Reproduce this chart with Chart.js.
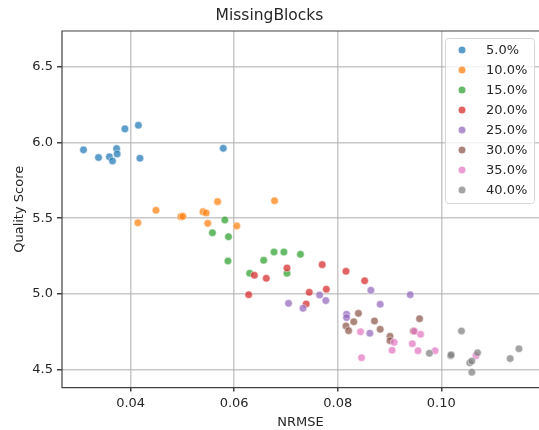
<!DOCTYPE html>
<html>
<head>
<meta charset="utf-8">
<script src="https://cdn.jsdelivr.net/npm/chart.js@4"></script>
<style>
  html, body { margin: 0; padding: 0; background: #fff; }
  #wrap { width: 539px; height: 430px; position: relative; }
</style>
</head>
<body>
<div id="wrap"><canvas id="chart"></canvas></div>
<script>
// values
const groups = ["5.0%", "10.0%", "15.0%", "20.0%", "25.0%", "30.0%", "35.0%", "40.0%"];

const nrmse05 = [0.0309, 0.0338, 0.0359, 0.0365, 0.0373, 0.0374, 0.0389, 0.0415, 0.0418, 0.0579];
const score05 = [5.95, 5.90, 5.905, 5.877, 5.958, 5.923, 6.088, 6.112, 5.895, 5.96];
const nrmse10 = [0.0414, 0.0449, 0.0497, 0.0501, 0.0540, 0.0546, 0.0549, 0.0568, 0.0605, 0.0678];
const score10 = [5.47, 5.552, 5.51, 5.512, 5.543, 5.534, 5.466, 5.609, 5.449, 5.615];
const nrmse15 = [0.0558, 0.0582, 0.0589, 0.0588, 0.0630, 0.0657, 0.0677, 0.0696, 0.0702, 0.0728];
const score15 = [5.404, 5.488, 5.378, 5.218, 5.137, 5.223, 5.277, 5.277, 5.137, 5.262];
const nrmse20 = [0.0628, 0.0639, 0.0662, 0.0702, 0.0739, 0.0745, 0.0770, 0.0778, 0.0816, 0.0852];
const score20 = [4.996, 5.124, 5.104, 5.172, 4.935, 5.012, 5.194, 5.032, 5.150, 5.088];
const nrmse25 = [0.0705, 0.0733, 0.0765, 0.0777, 0.0817, 0.0817, 0.0862, 0.0864, 0.0882, 0.0940];
const score25 = [4.939, 4.906, 4.994, 4.957, 4.867, 4.845, 4.742, 5.025, 4.933, 4.996];
const nrmse30 = [0.0816, 0.0821, 0.0831, 0.0840, 0.0871, 0.0882, 0.0901, 0.0901, 0.0946, 0.0958];
const score30 = [4.790, 4.759, 4.818, 4.873, 4.823, 4.768, 4.722, 4.693, 4.757, 4.838];
const nrmse35 = [0.0844, 0.0846, 0.0905, 0.0909, 0.0944, 0.0948, 0.0955, 0.0960, 0.0988, 0.1067];
const score35 = [4.752, 4.581, 4.630, 4.682, 4.673, 4.755, 4.627, 4.735, 4.627, 4.594];
const nrmse40 = [0.0977, 0.1018, 0.1019, 0.1039, 0.1055, 0.1059, 0.1059, 0.1070, 0.1133, 0.1150];
const score40 = [4.610, 4.594, 4.600, 4.757, 4.548, 4.559, 4.485, 4.614, 4.575, 4.640];

const xTicks = [0.04, 0.06, 0.08, 0.10];
const yTicks = [4.5, 5.0, 5.5, 6.0, 6.5];

const colors = ["#1f77b4", "#ff7f0e", "#2ca02c", "#d62728", "#9467bd", "#8c564b", "#e377c2", "#7f7f7f"];

const xs = [nrmse05, nrmse10, nrmse15, nrmse20, nrmse25, nrmse30, nrmse35, nrmse40];
const ys = [score05, score10, score15, score20, score25, score30, score35, score40];

function alpha(hex, a) {
  const n = parseInt(hex.slice(1), 16);
  return "rgba(" + (n >> 16) + "," + ((n >> 8) & 255) + "," + (n & 255) + "," + a + ")";
}

const datasets = groups.map((label, i) => ({
  label: label,
  data: xs[i].map((x, j) => ({ x: x, y: ys[i][j] })),
  backgroundColor: alpha(colors[i], 0.72),
  borderColor: "rgba(255,255,255,0.8)",
  borderWidth: 0.6,
  pointRadius: 3.8,
  pointHoverRadius: 3.8,
  order: groups.length - i,
}));

const FONT = "'DejaVu Sans', sans-serif";
const TEXT = "#262626";

// axes frame plus a matplotlib style legend inside the axes
const framePlugin = {
  id: "frame",
  afterDraw(chart) {
    const ctx = chart.ctx;
    const a = chart.chartArea;
    ctx.save();
    ctx.strokeStyle = "#404040";
    ctx.lineWidth = 1.2;
    ctx.beginPath();
    ctx.moveTo(chart.width + 2, a.top);
    ctx.lineTo(a.left, a.top);
    ctx.lineTo(a.left, a.bottom);
    ctx.lineTo(chart.width + 2, a.bottom);
    ctx.stroke();

    // legend box
    const bx = 445, by = 38, bw = 89, bh = 165;
    ctx.fillStyle = "rgba(255,255,255,0.8)";
    ctx.strokeStyle = "#d6d6d6";
    ctx.lineWidth = 1;
    ctx.beginPath();
    ctx.roundRect(bx + 0.5, by + 0.5, bw, bh, 3);
    ctx.fill();
    ctx.stroke();

    ctx.font = "13px " + FONT;
    ctx.textBaseline = "middle";
    ctx.textAlign = "left";
    chart.data.datasets.forEach((ds, i) => {
      const cy = by + 12 + i * 20;
      ctx.fillStyle = ds.backgroundColor;
      ctx.beginPath();
      ctx.arc(462, cy, 3.5, 0, Math.PI * 2);
      ctx.fill();
      ctx.fillStyle = TEXT;
      ctx.fillText(ds.label, 486, cy + 1);
    });
    ctx.restore();
  },
};

new Chart(document.getElementById("chart"), {
  type: "scatter",
  data: { datasets: datasets },
  options: {
    responsive: true,
    maintainAspectRatio: false,
    animation: false,
    layout: { autoPadding: false, padding: 0 },
    plugins: {
      legend: { display: false },
      tooltip: { enabled: false },
      title: {
        display: true,
        text: "MissingBlocks",
        color: TEXT,
        font: { family: FONT, size: 15.5, weight: "normal" },
        padding: { top: 7, bottom: 5.4 },
      },
    },
    scales: {
      x: {
        type: "linear",
        min: 0.02675,
        max: 0.11887,
        afterBuildTicks: (s) => { s.ticks = xTicks.map((v) => ({ value: v })); },
        afterFit: (s) => { s.height = 42.4; },
        grid: { color: "rgba(176,176,176,0.7)", lineWidth: 1.5, tickColor: "#404040", tickLength: 4, drawTicks: true },
        border: { display: false },
        ticks: {
          color: TEXT,
          font: { family: FONT, size: 13 },
          padding: 4,
          maxRotation: 0,
          callback: (v) => v.toFixed(2),
        },
        title: {
          display: true,
          text: "NRMSE",
          color: TEXT,
          font: { family: FONT, size: 13 },
          padding: { top: 0, bottom: 0 },
        },
      },
      y: {
        type: "linear",
        min: 4.384,
        max: 6.733,
        afterBuildTicks: (s) => { s.ticks = yTicks.map((v) => ({ value: v })); },
        afterFit: (s) => { s.width = 62; },
        grid: { color: "rgba(176,176,176,0.7)", lineWidth: 1.5, tickColor: "#404040", tickLength: 5, drawTicks: true },
        border: { display: false },
        ticks: {
          color: TEXT,
          font: { family: FONT, size: 13 },
          padding: 4,
          callback: (v) => v.toFixed(1),
        },
        title: {
          display: true,
          text: "Quality Score",
          color: TEXT,
          font: { family: FONT, size: 13 },
          padding: { top: 11.5, bottom: 0 },
        },
      },
    },
  },
  plugins: [framePlugin],
});
</script>
</body>
</html>
